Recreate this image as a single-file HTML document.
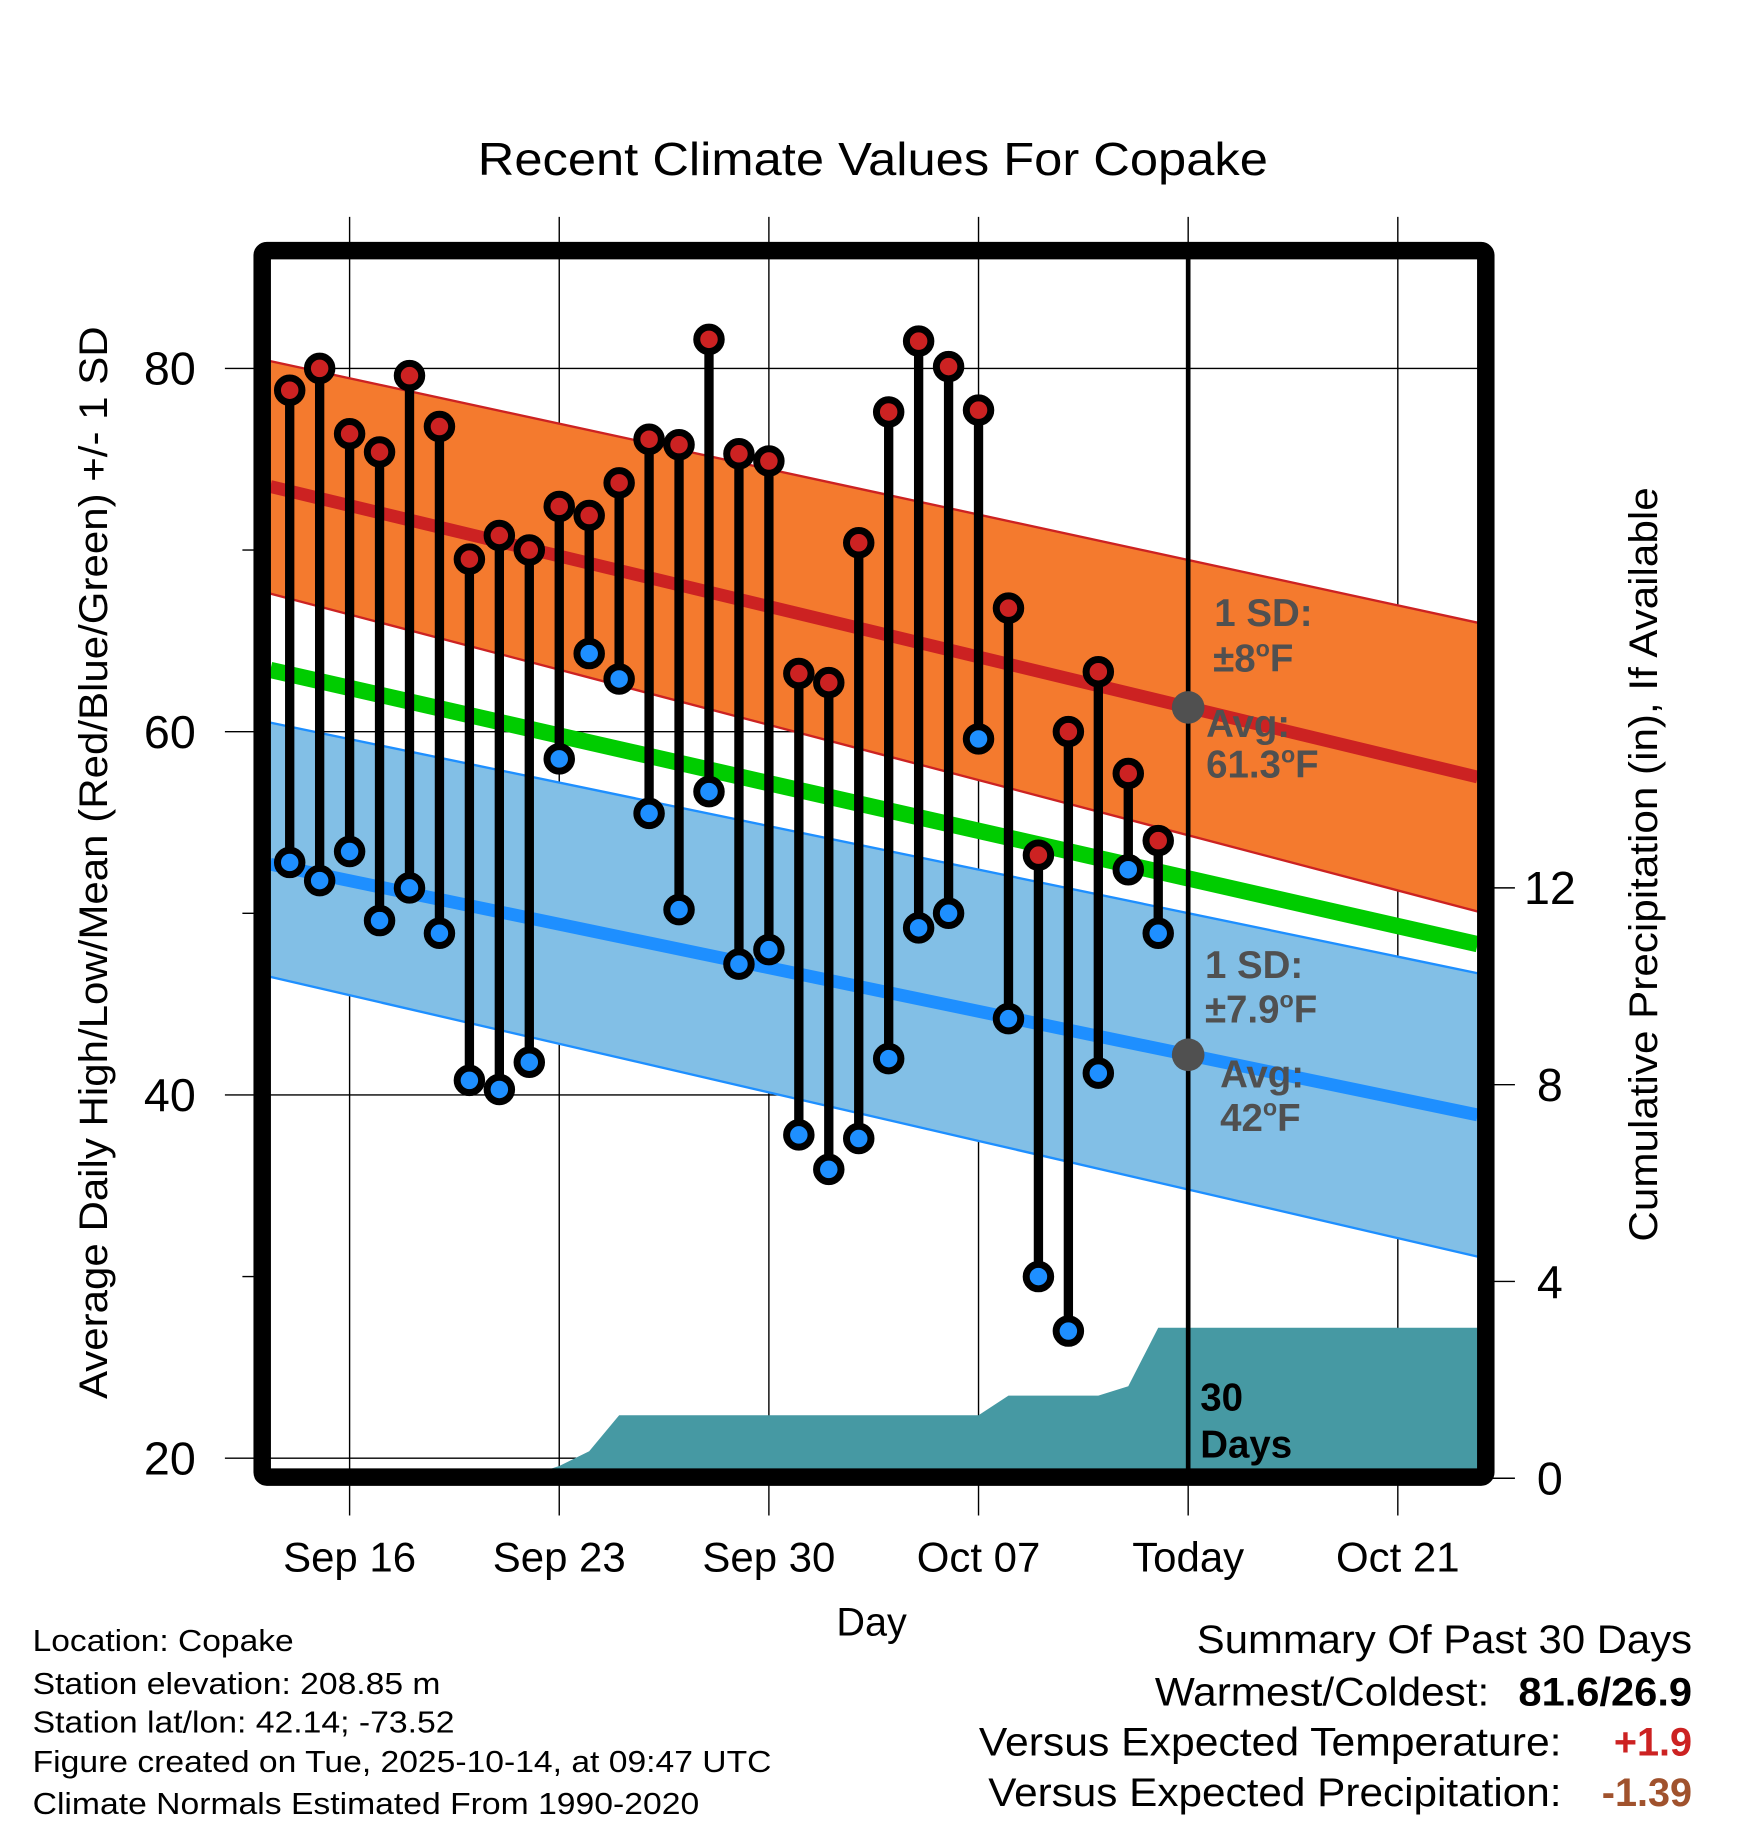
<!DOCTYPE html>
<html><head><meta charset="utf-8"><style>
html,body{margin:0;padding:0;background:#fff;}
svg{display:block;font-family:"Liberation Sans",Arial,sans-serif;}
</style></head><body>
<svg id="chart" width="1748" height="1828" viewBox="0 0 1500 1568" preserveAspectRatio="none" xmlns="http://www.w3.org/2000/svg">
<rect width="1500" height="1568" fill="#fff"/>
<text x="410" y="150" font-size="40" textLength="678" lengthAdjust="spacingAndGlyphs">Recent Climate Values For Copake</text>
<g id="grid"></g>
<g id="bands"></g>
<g id="precip"></g>
<g id="stems"></g>
<g id="annot"></g>
<rect x="225" y="215" width="1050" height="1052" fill="none" stroke="#000" stroke-width="15" rx="4"/>
<g id="axes"></g>
<text transform="translate(92,1200) rotate(-90)" font-size="34" textLength="920" lengthAdjust="spacingAndGlyphs">Average Daily High/Low/Mean (Red/Blue/Green) +/- 1 SD</text>
<text transform="translate(1422,1065) rotate(-90)" font-size="34" textLength="647" lengthAdjust="spacingAndGlyphs">Cumulative Precipitation (in), If Available</text>
<text x="748" y="1403" font-size="34" text-anchor="middle">Day</text>
<g font-size="26">
<text x="28" y="1416" textLength="224" lengthAdjust="spacingAndGlyphs">Location: Copake</text>
<text x="28" y="1453" textLength="350" lengthAdjust="spacingAndGlyphs">Station elevation: 208.85 m</text>
<text x="28" y="1486" textLength="362" lengthAdjust="spacingAndGlyphs">Station lat/lon: 42.14; -73.52</text>
<text x="28" y="1520" textLength="634" lengthAdjust="spacingAndGlyphs">Figure created on Tue, 2025-10-14, at 09:47 UTC</text>
<text x="28" y="1556" textLength="572" lengthAdjust="spacingAndGlyphs">Climate Normals Estimated From 1990-2020</text>
</g>
<g font-size="34">
<text x="1027" y="1418" textLength="425" lengthAdjust="spacingAndGlyphs">Summary Of Past 30 Days</text>
<text x="991" y="1463" textLength="287" lengthAdjust="spacingAndGlyphs">Warmest/Coldest:</text>
<text x="1303" y="1463" font-weight="bold" textLength="149" lengthAdjust="spacingAndGlyphs">81.6/26.9</text>
<text x="840" y="1506" textLength="500" lengthAdjust="spacingAndGlyphs">Versus Expected Temperature:</text>
<text x="1452" y="1506" text-anchor="end" font-weight="bold" fill="#cc2222">+1.9</text>
<text x="848" y="1549" textLength="492" lengthAdjust="spacingAndGlyphs">Versus Expected Precipitation:</text>
<text x="1452" y="1549" text-anchor="end" font-weight="bold" fill="#a0522d">-1.39</text>
</g>
</svg>
<script>
// Data: day index relative to Sep 16 (0). Days -2..27 = Sep 14..Oct 13
const highs = [78.8,80.0,76.4,75.4,79.6,76.8,69.5,70.8,70.0,72.4,71.9,73.7,76.1,75.8,81.6,75.3,74.9,63.2,62.7,70.4,77.6,81.5,80.1,77.7,66.8,53.2,60.0,63.3,57.7,54.0];
const lows = [52.8,51.8,53.4,49.6,51.4,48.9,40.8,40.3,41.8,58.5,64.3,62.9,55.5,50.2,56.7,47.2,48.0,37.8,35.9,37.6,42.0,49.2,50.0,59.6,44.2,30.0,27.0,41.2,52.4,48.9];
const dailyPrecip = [0,0,0,0,0,0,0,0,0.05,0.2,0.3,0.73,0,0,0,0,0,0,0,0,0,0,0,0,0.4,0,0,0,0.19,1.19];
const firstDay = -2;
// normals at plot start / end
const normHigh = [73.5,57.5];
const highUpper = [80.4,66.0];
const highLower = [67.6,50.1];
const normLow = [52.7,38.9];
const lowUpper = [60.5,46.7];
const lowLower = [46.5,31.1];
const normMean = [63.4,48.3];
const xTickLabels = ["Sep 16","Sep 23","Sep 30","Oct 07","Today","Oct 21"];
const xTickDays = [0,7,14,21,28,35];
const yTicks = [20,40,60,80];
const yMinor = [30,50,70];
const y2Ticks = [0,4,8,12];

const NS="http://www.w3.org/2000/svg";
const X0=232,X1=1268,Y0=222,Y1=1260;
const xs=d=>300+(d)*25.7;
const ys=t=>316+(80-t)*15.58;
const yp=p=>1268-p*42.2;
function mk(tag,attrs,parent){const e=document.createElementNS(NS,tag);for(const k in attrs)e.setAttribute(k,attrs[k]);parent.appendChild(e);return e;}
const grid=document.getElementById('grid'),bands=document.getElementById('bands'),precip=document.getElementById('precip'),stems=document.getElementById('stems'),annot=document.getElementById('annot'),axes=document.getElementById('axes');

xTickDays.forEach((d,i)=>{
  const l=mk('line',{x1:xs(d),x2:xs(d),y1:186,y2:1300,stroke:'#000','stroke-width':1.2},grid);
  
  
  const t=mk('text',{x:xs(d),y:1348,'font-size':36,'text-anchor':'middle'},axes);
  t.textContent=xTickLabels[i];
  
  
});
yTicks.forEach(v=>{
  const l=mk('line',{x1:193,x2:X1,y1:ys(v),y2:ys(v),stroke:'#000','stroke-width':1.2},grid);
  
  
  const t=mk('text',{x:168,y:ys(v)+14,'font-size':40,'text-anchor':'end'},axes);
  t.textContent=v;
  
  
});
yMinor.forEach(v=>{
  const l=mk('line',{x1:208,x2:220,y1:ys(v),y2:ys(v),stroke:'#000','stroke-width':1.2},axes);
  
  
});
y2Ticks.forEach(v=>{
  const l=mk('line',{x1:1280,x2:1300,y1:yp(v),y2:yp(v),stroke:'#000','stroke-width':1.2},axes);
  
  
  const t=mk('text',{x:1330,y:yp(v)+14,'font-size':40,'text-anchor':'middle'},axes);
  t.textContent=v;
  
  
});

function band(up,lo,fill,edge,name){
  const p=mk('polygon',{points:`${X0},${ys(up[0])} ${X1},${ys(up[1])} ${X1},${ys(lo[1])} ${X0},${ys(lo[0])}`,fill:fill},bands);
  
  
  [up,lo].forEach(a=>{
    const e=mk('line',{x1:X0,x2:X1,y1:ys(a[0]),y2:ys(a[1]),stroke:edge,'stroke-width':2},bands);
    
    
  });
}
band(lowUpper,lowLower,'#82bfe6','#1e8fff','low-sd-band');
band(highUpper,highLower,'#f47a2e','#cc2222','high-sd-band');
function mline(m,col,w,name){
  const l=mk('line',{x1:X0,x2:X1,y1:ys(m[0]),y2:ys(m[1]),stroke:col,'stroke-width':w},bands);
  
  
}
mline(normHigh,'#cc2222',11,'normal-high-line');
mline(normLow,'#1e8fff',11,'normal-low-line');
mline(normMean,'#00cc00',14,'normal-mean-line');

let cum=0;const pts=[[X0,Y1],[X0,yp(0)]];
dailyPrecip.forEach((p,i)=>{cum+=p;pts.push([xs(firstDay+i),yp(cum)]);});
pts.push([X1,yp(cum)]);pts.push([X1,Y1]);
const pp=mk('polygon',{points:pts.map(p=>p.join(',')).join(' '),fill:'#4699a3'},precip);



const tl=mk('line',{x1:xs(28),x2:xs(28),y1:Y0,y2:Y1,stroke:'#000','stroke-width':4},annot);



highs.forEach((h,i)=>{
  const x=xs(firstDay+i);
  const l=mk('line',{x1:x,x2:x,y1:ys(h),y2:ys(lows[i]),stroke:'#000','stroke-width':8},stems);
  
  
  const c1=mk('circle',{cx:x,cy:ys(h),r:10.5,fill:'#cc2222',stroke:'#000','stroke-width':6},stems);
  
  
  const c2=mk('circle',{cx:x,cy:ys(lows[i]),r:10.5,fill:'#1e8fff',stroke:'#000','stroke-width':6},stems);
  
  
});

const hToday=normHigh[0]+(normHigh[1]-normHigh[0])*(xs(28)-X0)/(X1-X0);
const lToday=normLow[0]+(normLow[1]-normLow[0])*(xs(28)-X0)/(X1-X0);
[[hToday,'today-high-normal-dot'],[lToday,'today-low-normal-dot']].forEach(a=>{
  const c=mk('circle',{cx:xs(28),cy:ys(a[0]),r:14,fill:'#505050'},annot);
  
  
});
function lab(x,y,s,name,col,size){
  const t=mk('text',{x:x,y:y,'font-size':size||33,'font-weight':'bold',fill:col||'#505050'},annot);
  t.innerHTML=s;
  
  
}
lab(1042,537,'1 SD:','high-sd-label');
lab(1041,576,'±8<tspan font-size="20" dy="-13">o</tspan><tspan dy="13">F</tspan>','high-sd-value');
lab(1035,632,'Avg:','high-avg-label');
lab(1035,667,'61.3<tspan font-size="20" dy="-13">o</tspan><tspan dy="13">F</tspan>','high-avg-value');
lab(1034,839,'1 SD:','low-sd-label');
lab(1034,877,'±7.9<tspan font-size="20" dy="-13">o</tspan><tspan dy="13">F</tspan>','low-sd-value');
lab(1047,933,'Avg:','low-avg-label');
lab(1047,970,'42<tspan font-size="20" dy="-13">o</tspan><tspan dy="13">F</tspan>','low-avg-value');
lab(1030,1210,'30','days-count-label','#000');
lab(1030,1250,'Days','days-label','#000');
</script>
</body></html>
